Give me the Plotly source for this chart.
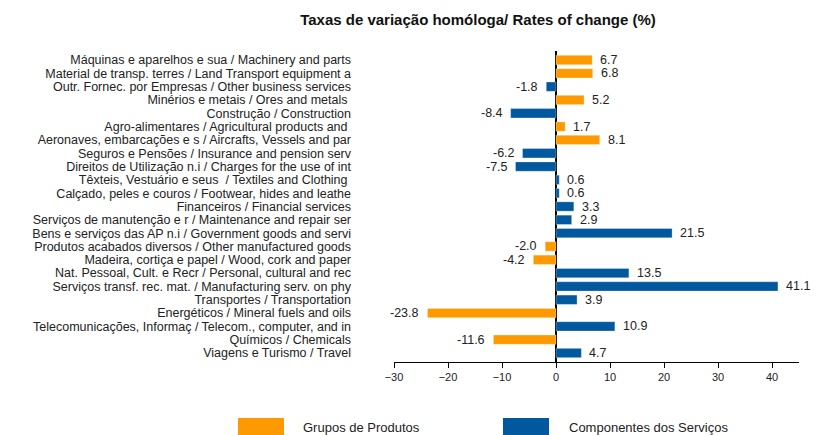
import plotly.graph_objects as go

categories = [
    "Máquinas e aparelhos e sua / Machinery and parts",
    "Material de transp. terres / Land Transport equipment a",
    "Outr. Fornec. por Empresas / Other business services",
    "Minérios e metais / Ores and metals ",
    "Construção / Construction",
    "Agro-alimentares / Agricultural products and ",
    "Aeronaves, embarcações e s / Aircrafts, Vessels and par",
    "Seguros e Pensões / Insurance and pension serv",
    "Direitos de Utilização n.i / Charges for the use of int",
    "Têxteis, Vestuário e seus  / Textiles and Clothing ",
    "Calçado, peles e couros / Footwear, hides and leathe",
    "Financeiros / Financial services",
    "Serviços de manutenção e r / Maintenance and repair ser",
    "Bens e serviços das AP n.i / Government goods and servi",
    "Produtos acabados diversos / Other manufactured goods",
    "Madeira, cortiça e papel / Wood, cork and paper",
    "Nat. Pessoal, Cult. e Recr / Personal, cultural and rec",
    "Serviços transf. rec. mat. / Manufacturing serv. on phy",
    "Transportes / Transportation",
    "Energéticos / Mineral fuels and oils",
    "Telecomunicações, Informaç / Telecom., computer, and in",
    "Químicos / Chemicals",
    "Viagens e Turismo / Travel",
]
values = [6.7, 6.8, -1.8, 5.2, -8.4, 1.7, 8.1, -6.2, -7.5, 0.6, 0.6, 3.3, 2.9,
          21.5, -2.0, -4.2, 13.5, 41.1, 3.9, -23.8, 10.9, -11.6, 4.7]
groups = ["P", "P", "S", "P", "S", "P", "P", "S", "S", "S", "S", "S", "S",
          "S", "P", "P", "S", "S", "S", "P", "S", "P", "S"]
series_names = {"P": "Grupos de Produtos", "S": "Componentes dos Serviços"}
x_ticks = [-30, -20, -10, 0, 10, 20, 30, 40]

ORANGE = "#FF9900"
BLUE = "#00589E"
colors = {"P": ORANGE, "S": BLUE}
FONT = "Liberation Sans, Arial, sans-serif"

fig = go.Figure()
for g in ["P", "S"]:
    xs = [v if gg == g else None for v, gg in zip(values, groups)]
    fig.add_trace(go.Bar(
        x=xs, y=categories, orientation="h", name=series_names[g],
        marker=dict(color=colors[g], line=dict(color="rgba(255,255,255,0.6)", width=0.5)),
        showlegend=False,
    ))

for c, v in zip(categories, values):
    fig.add_annotation(
        x=v, y=c, xref="x", yref="y", text=f"{v:.1f}", showarrow=False,
        xanchor="left" if v >= 0 else "right", xshift=6 if v >= 0 else -6,
        font=dict(family=FONT, size=12.5, color="#222222"),
    )

# legend
legend_items = [("P", 238, 301), ("S", 503, 567)]
for g, bx, tx in legend_items:
    fig.add_shape(type="rect", xref="paper", yref="paper",
                  x0=(bx - 394) / 405, x1=(bx + 46 - 394) / 405,
                  y0=-(418 - 362) / 311, y1=-(435 - 362) / 311,
                  fillcolor=colors[g], line=dict(width=0))
    fig.add_annotation(xref="paper", yref="paper", x=(tx - 394) / 405,
                       y=-(427 - 362) / 311, text=series_names[g], showarrow=False,
                       xanchor="left", yanchor="middle",
                       font=dict(family=FONT, size=13, color="#222222"))

fig.update_layout(
    width=816, height=435,
    margin=dict(l=394, r=17, t=51, b=73, autoexpand=False),
    paper_bgcolor="white", plot_bgcolor="white",
    barmode="relative", bargap=0.3,
    title=dict(text="<b>Taxas de variação homóloga/ Rates of change (%)</b>",
               x=478 / 816, xanchor="center", y=1 - 20 / 435, yanchor="middle",
               font=dict(family=FONT, size=15, color="#111111")),
    font=dict(family=FONT, color="#222222"),
)
fig.update_xaxes(
    range=[-30, 45], tickvals=x_ticks, ticks="outside", ticklen=5, tickcolor="black",
    showline=True, linecolor="black", linewidth=1, showgrid=False,
    zeroline=True, zerolinecolor="black", zerolinewidth=1.5, automargin=False,
    tickfont=dict(family=FONT, size=11, color="#222222"),
)
fig.update_yaxes(
    autorange="reversed", showgrid=False, showline=False, ticks="",
    tickmode="array", tickvals=categories, ticktext=categories,
    ticklabelstandoff=42, automargin=False,
    tickfont=dict(family=FONT, size=12.5, color="#222222"),
)
fig.write_html(
    "out.html",
    config={"displayModeBar": False},
    post_script="document.body.style.margin='0';document.body.style.overflow='hidden';",
)
